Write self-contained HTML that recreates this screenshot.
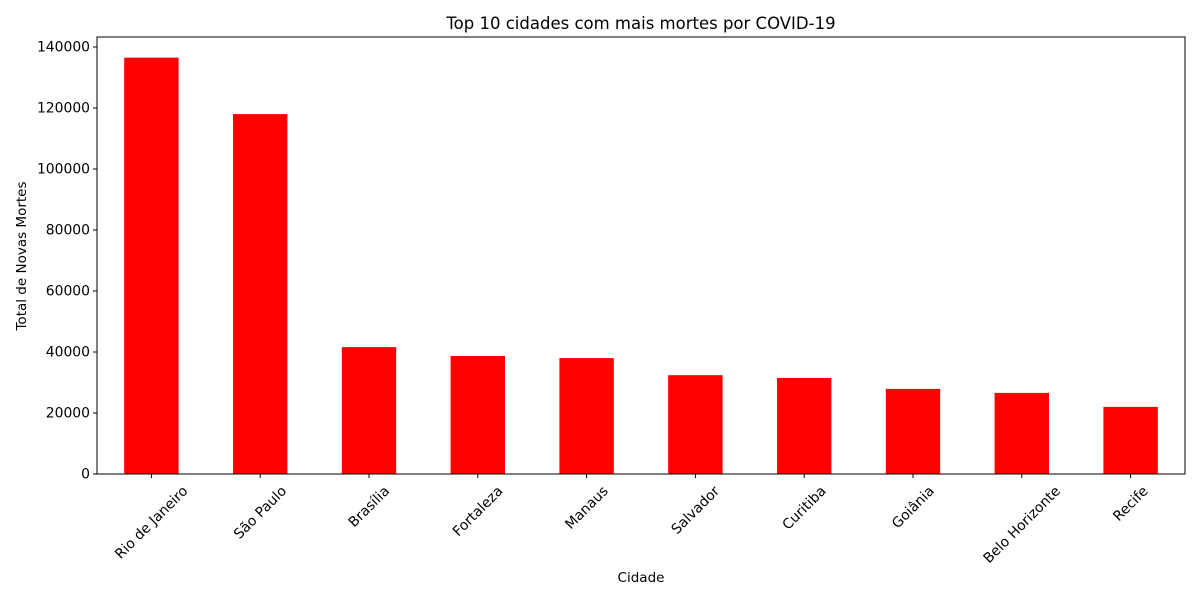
<!DOCTYPE html>
<html><head><meta charset="utf-8"><style>
html,body{margin:0;padding:0;background:#fff;}
svg{display:block;font-family:"DejaVu Sans","Liberation Sans",sans-serif;}
</style></head><body>
<svg id="chart" width="1200" height="600">
<text x="641" y="29" text-anchor="middle" font-size="16.5">Top 10 cidades com mais mortes por COVID-19</text>
<text transform="translate(26,256) rotate(-90)" text-anchor="middle" font-size="13.5">Total de Novas Mortes</text>
<text x="641" y="582" text-anchor="middle" font-size="13.5">Cidade</text>
<g id="bars"></g><g id="axes"></g>
</svg>
<script>
const categories = ["Rio de Janeiro","São Paulo","Brasília","Fortaleza","Manaus","Salvador","Curitiba","Goiânia","Belo Horizonte","Recife"];
const values = [136500,118000,41600,38700,38000,32400,31500,27900,26600,22000];
const yTicks = [0,20000,40000,60000,80000,100000,120000,140000];

const L=97,R=1185,T=37,B=474;
function y(v){return B-(v/140000)*(B-47);}
const step=(R-L)/categories.length;
function xc(i){return L+step*(i+0.5);}
const ns="http://www.w3.org/2000/svg";
const bars=document.getElementById('bars'), axes=document.getElementById('axes');
function mk(tag,attrs,parent){const e=document.createElementNS(ns,tag);for(const k in attrs)e.setAttribute(k,attrs[k]);parent.appendChild(e);return e;}
values.forEach((v,i)=>{
  const r=mk('rect',{x:xc(i)-step/4,y:y(v),width:step/2,height:B-y(v),fill:'#ff0000'},bars);
  
  
});
mk('rect',{x:L,y:T,width:R-L,height:B-T,fill:'none',stroke:'#000','stroke-width':1},axes);
yTicks.forEach(t=>{
  const yy=y(t);
  mk('line',{x1:L-4,x2:L,y1:yy,y2:yy,stroke:'#000'},axes);
  const tx=mk('text',{x:L-7,y:yy+4.5,'text-anchor':'end','font-size':13.9},axes);
  tx.textContent=t;
  
  
});
categories.forEach((c,i)=>{
  const x=xc(i);
  mk('line',{x1:x,x2:x,y1:B,y2:B+4,stroke:'#000'},axes);
  const tx=mk('text',{'text-anchor':'middle','font-size':13.9},axes);
  tx.textContent=c;
  
  
  const len=tx.getComputedTextLength();
  const h=(len+13)*0.7071;
  tx.setAttribute('transform','translate('+x+','+(B+10+h/2)+') rotate(-45)');
  tx.setAttribute('y',4.5);
});
</script>
</body></html>
